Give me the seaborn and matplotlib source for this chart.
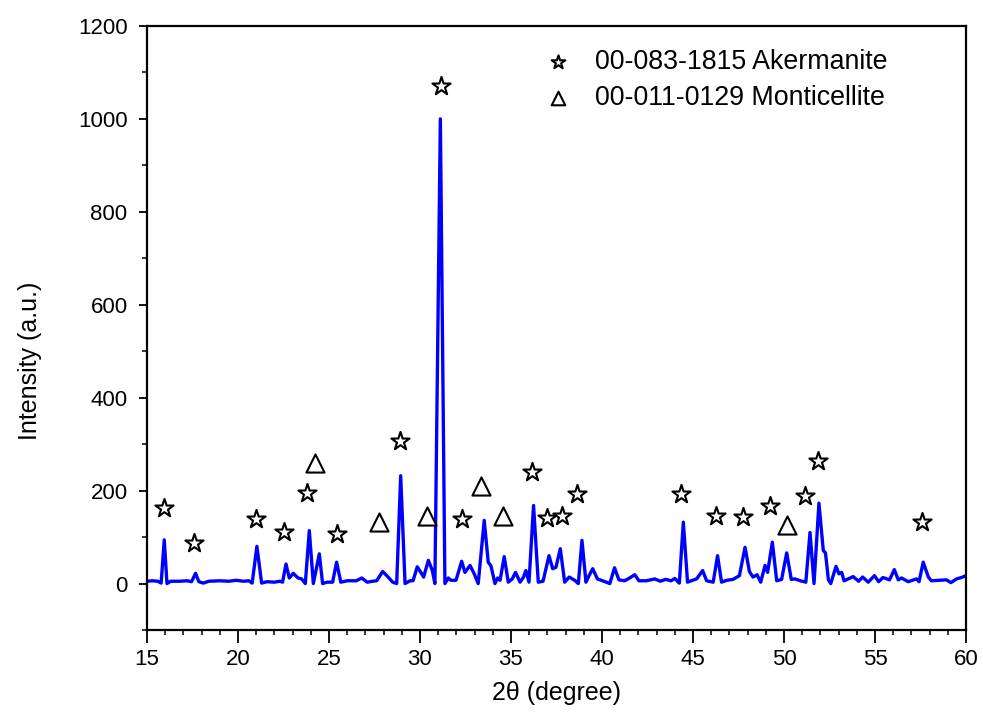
import matplotlib
matplotlib.use("Agg")
import matplotlib.pyplot as plt
from matplotlib.ticker import MultipleLocator
import pandas as pd
import seaborn as sns

# XRD pattern vertices (2-theta in degrees, intensity in a.u.)
two_theta = [
    15.0, 15.3, 15.6, 15.78, 15.95, 16.1, 16.3, 16.8, 17.2, 17.45, 17.67, 17.85,
    18.1, 18.4, 19.0, 19.5, 19.9, 20.3, 20.6, 20.78, 21.04, 21.3, 21.6, 22.0,
    22.3, 22.45, 22.64, 22.82, 23.04, 23.3, 23.5, 23.7, 23.92, 24.14, 24.47, 24.65,
    24.9, 25.2, 25.42, 25.65, 26.0, 26.5, 26.8, 27.1, 27.4, 27.62, 27.95, 28.25,
    28.5, 28.72, 28.94, 29.18, 29.45, 29.62, 29.85, 30.08, 30.2, 30.46, 30.68, 30.82,
    31.12, 31.37, 31.56, 31.7, 31.98, 32.29, 32.47, 32.75, 32.98, 33.2, 33.53, 33.75,
    33.9, 34.12, 34.27, 34.4, 34.63, 34.85, 35.07, 35.25, 35.5, 35.69, 35.82, 35.99,
    36.24, 36.5, 36.76, 37.09, 37.29, 37.47, 37.71, 37.95, 38.2, 38.5, 38.7, 38.9,
    39.12, 39.25, 39.49, 39.75, 40.1, 40.43, 40.69, 40.93, 41.24, 41.52, 41.8, 42.03,
    42.44, 42.9, 43.2, 43.5, 43.8, 44.0, 44.25, 44.47, 44.7, 44.97, 45.2, 45.53,
    45.75, 46.11, 46.35, 46.57, 46.85, 47.2, 47.55, 47.86, 48.1, 48.3, 48.52, 48.72,
    48.96, 49.1, 49.36, 49.6, 49.87, 50.15, 50.4, 50.6, 50.9, 51.2, 51.43, 51.65,
    51.92, 52.16, 52.28, 52.44, 52.57, 52.86, 53.02, 53.17, 53.3, 53.53, 53.8, 54.1,
    54.32, 54.63, 54.97, 55.2, 55.44, 55.8, 56.06, 56.28, 56.46, 56.82, 57.28, 57.42,
    57.65, 57.93, 58.1, 58.5, 58.93, 59.17, 59.48, 59.75, 60.0,
]
intensity = [
    5, 6, 5, 1, 94, 0, 5, 5, 6, 4, 22, 4,
    1, 5, 6, 5, 7, 5, 6, 1, 80, 1, 4, 3,
    5, 3, 42, 12, 22, 12, 10, 0, 114, 0, 64, 0,
    3, 3, 46, 3, 6, 6, 12, 3, 5, 6, 26, 14,
    3, 0, 232, 0, 6, 6, 36, 22, 14, 50, 28, 0,
    1000, 0, 12, 7, 7, 48, 24, 39, 21, 0, 136, 46,
    38, 0, 12, 7, 58, 3, 10, 24, 3, 14, 28, 3,
    168, 3, 5, 60, 32, 35, 75, 3, 14, 7, 0, 93,
    3, 14, 32, 10, 5, 0, 34, 8, 6, 12, 19, 6,
    6, 10, 5, 9, 6, 11, 1, 132, 3, 7, 10, 28,
    6, 3, 60, 3, 7, 9, 17, 78, 26, 14, 19, 3,
    39, 24, 89, 6, 9, 66, 9, 10, 6, 3, 110, 0,
    173, 71, 66, 8, 0, 37, 21, 24, 6, 10, 15, 5,
    14, 3, 17, 4, 13, 8, 30, 8, 12, 4, 10, 4,
    46, 14, 6, 7, 8, 2, 10, 13, 17,
]

# Reflection markers for the identified phases
akermanite_pos = [15.93, 17.6, 20.97, 22.55, 23.77, 25.46, 28.9, 31.15, 32.29, 36.14,
                  36.96, 37.8, 38.61, 44.34, 46.24, 47.73, 49.23, 51.13, 51.89, 57.6]
akermanite_hgt = [163, 88, 139, 112, 195, 106, 307, 1071, 139, 240,
                  141, 146, 192, 192, 146, 144, 168, 189, 264, 132]
monticellite_pos = [24.23, 27.76, 30.4, 33.35, 34.54, 50.15]
monticellite_hgt = [259, 132, 146, 210, 146, 127]

akermanite_label = "00-083-1815 Akermanite"
monticellite_label = "00-011-0129 Monticellite"
x_ticks = [15, 20, 25, 30, 35, 40, 45, 50, 55, 60]
y_ticks = [0, 200, 400, 600, 800, 1000, 1200]

pattern = pd.DataFrame({"two_theta": two_theta, "intensity": intensity})
ak = pd.DataFrame({"pos": akermanite_pos, "hgt": akermanite_hgt})
mo = pd.DataFrame({"pos": monticellite_pos, "hgt": monticellite_hgt})

sns.set_style("ticks")
plt.rcParams["font.family"] = ["Liberation Sans", "DejaVu Sans"]
plt.rcParams["text.color"] = "black"
plt.rcParams["axes.labelcolor"] = "black"

fig = plt.figure(figsize=(9.83, 7.24), dpi=100)
ax = fig.add_axes([0.1495, 0.1298, 0.8332, 0.8343])

sns.lineplot(data=pattern, x="two_theta", y="intensity", ax=ax, sort=False,
             color="#0000ff", linewidth=2.4, solid_joinstyle="round")
sns.scatterplot(data=ak, x="pos", y="hgt", ax=ax, marker="*", s=190,
                facecolor="white", edgecolor="black", linewidth=1.5,
                label=akermanite_label, zorder=3)
sns.scatterplot(data=mo, x="pos", y="hgt", ax=ax, marker="^", s=170,
                facecolor="white", edgecolor="black", linewidth=1.5,
                label=monticellite_label, zorder=3)

ax.set_xlim(15, 60)
ax.set_ylim(-100, 1200)
ax.set_xticks(x_ticks)
ax.set_yticks(y_ticks)
ax.xaxis.set_minor_locator(MultipleLocator(1))
ax.yaxis.set_minor_locator(MultipleLocator(100))
ax.tick_params(axis="x", which="major", length=9, width=1.3, labelsize=16,
               pad=5, color="black", labelcolor="black")
ax.tick_params(axis="y", which="major", length=6, width=1.3, labelsize=16,
               pad=8, color="black", labelcolor="black")
ax.tick_params(which="minor", length=3.5, width=1.1, color="black")
ax.tick_params(top=False, right=False, which="both")
for side in ["left", "right", "top", "bottom"]:
    ax.spines[side].set_visible(True)
    ax.spines[side].set_linewidth(1.6)
    ax.spines[side].set_color("black")

ax.set_xlabel("2\u03b8 (degree)", fontsize=18)
ax.set_ylabel("Intensity (a.u.)", fontsize=18)
ax.xaxis.label.set_va("center")
ax.yaxis.label.set_va("center")
ax.xaxis.set_label_coords(0.5, -0.104)
ax.yaxis.set_label_coords(-0.143, 0.445)

leg = ax.legend(loc="center left", bbox_to_anchor=(0.486, 0.9106), frameon=False,
                fontsize=19.3, markerscale=0.75, handlelength=1.0,
                handletextpad=0.88, borderpad=0, borderaxespad=0,
                labelspacing=0.36, scatterpoints=1)
for t in leg.get_texts():
    t.set_color("black")

fig.savefig("out.png", dpi=100)
